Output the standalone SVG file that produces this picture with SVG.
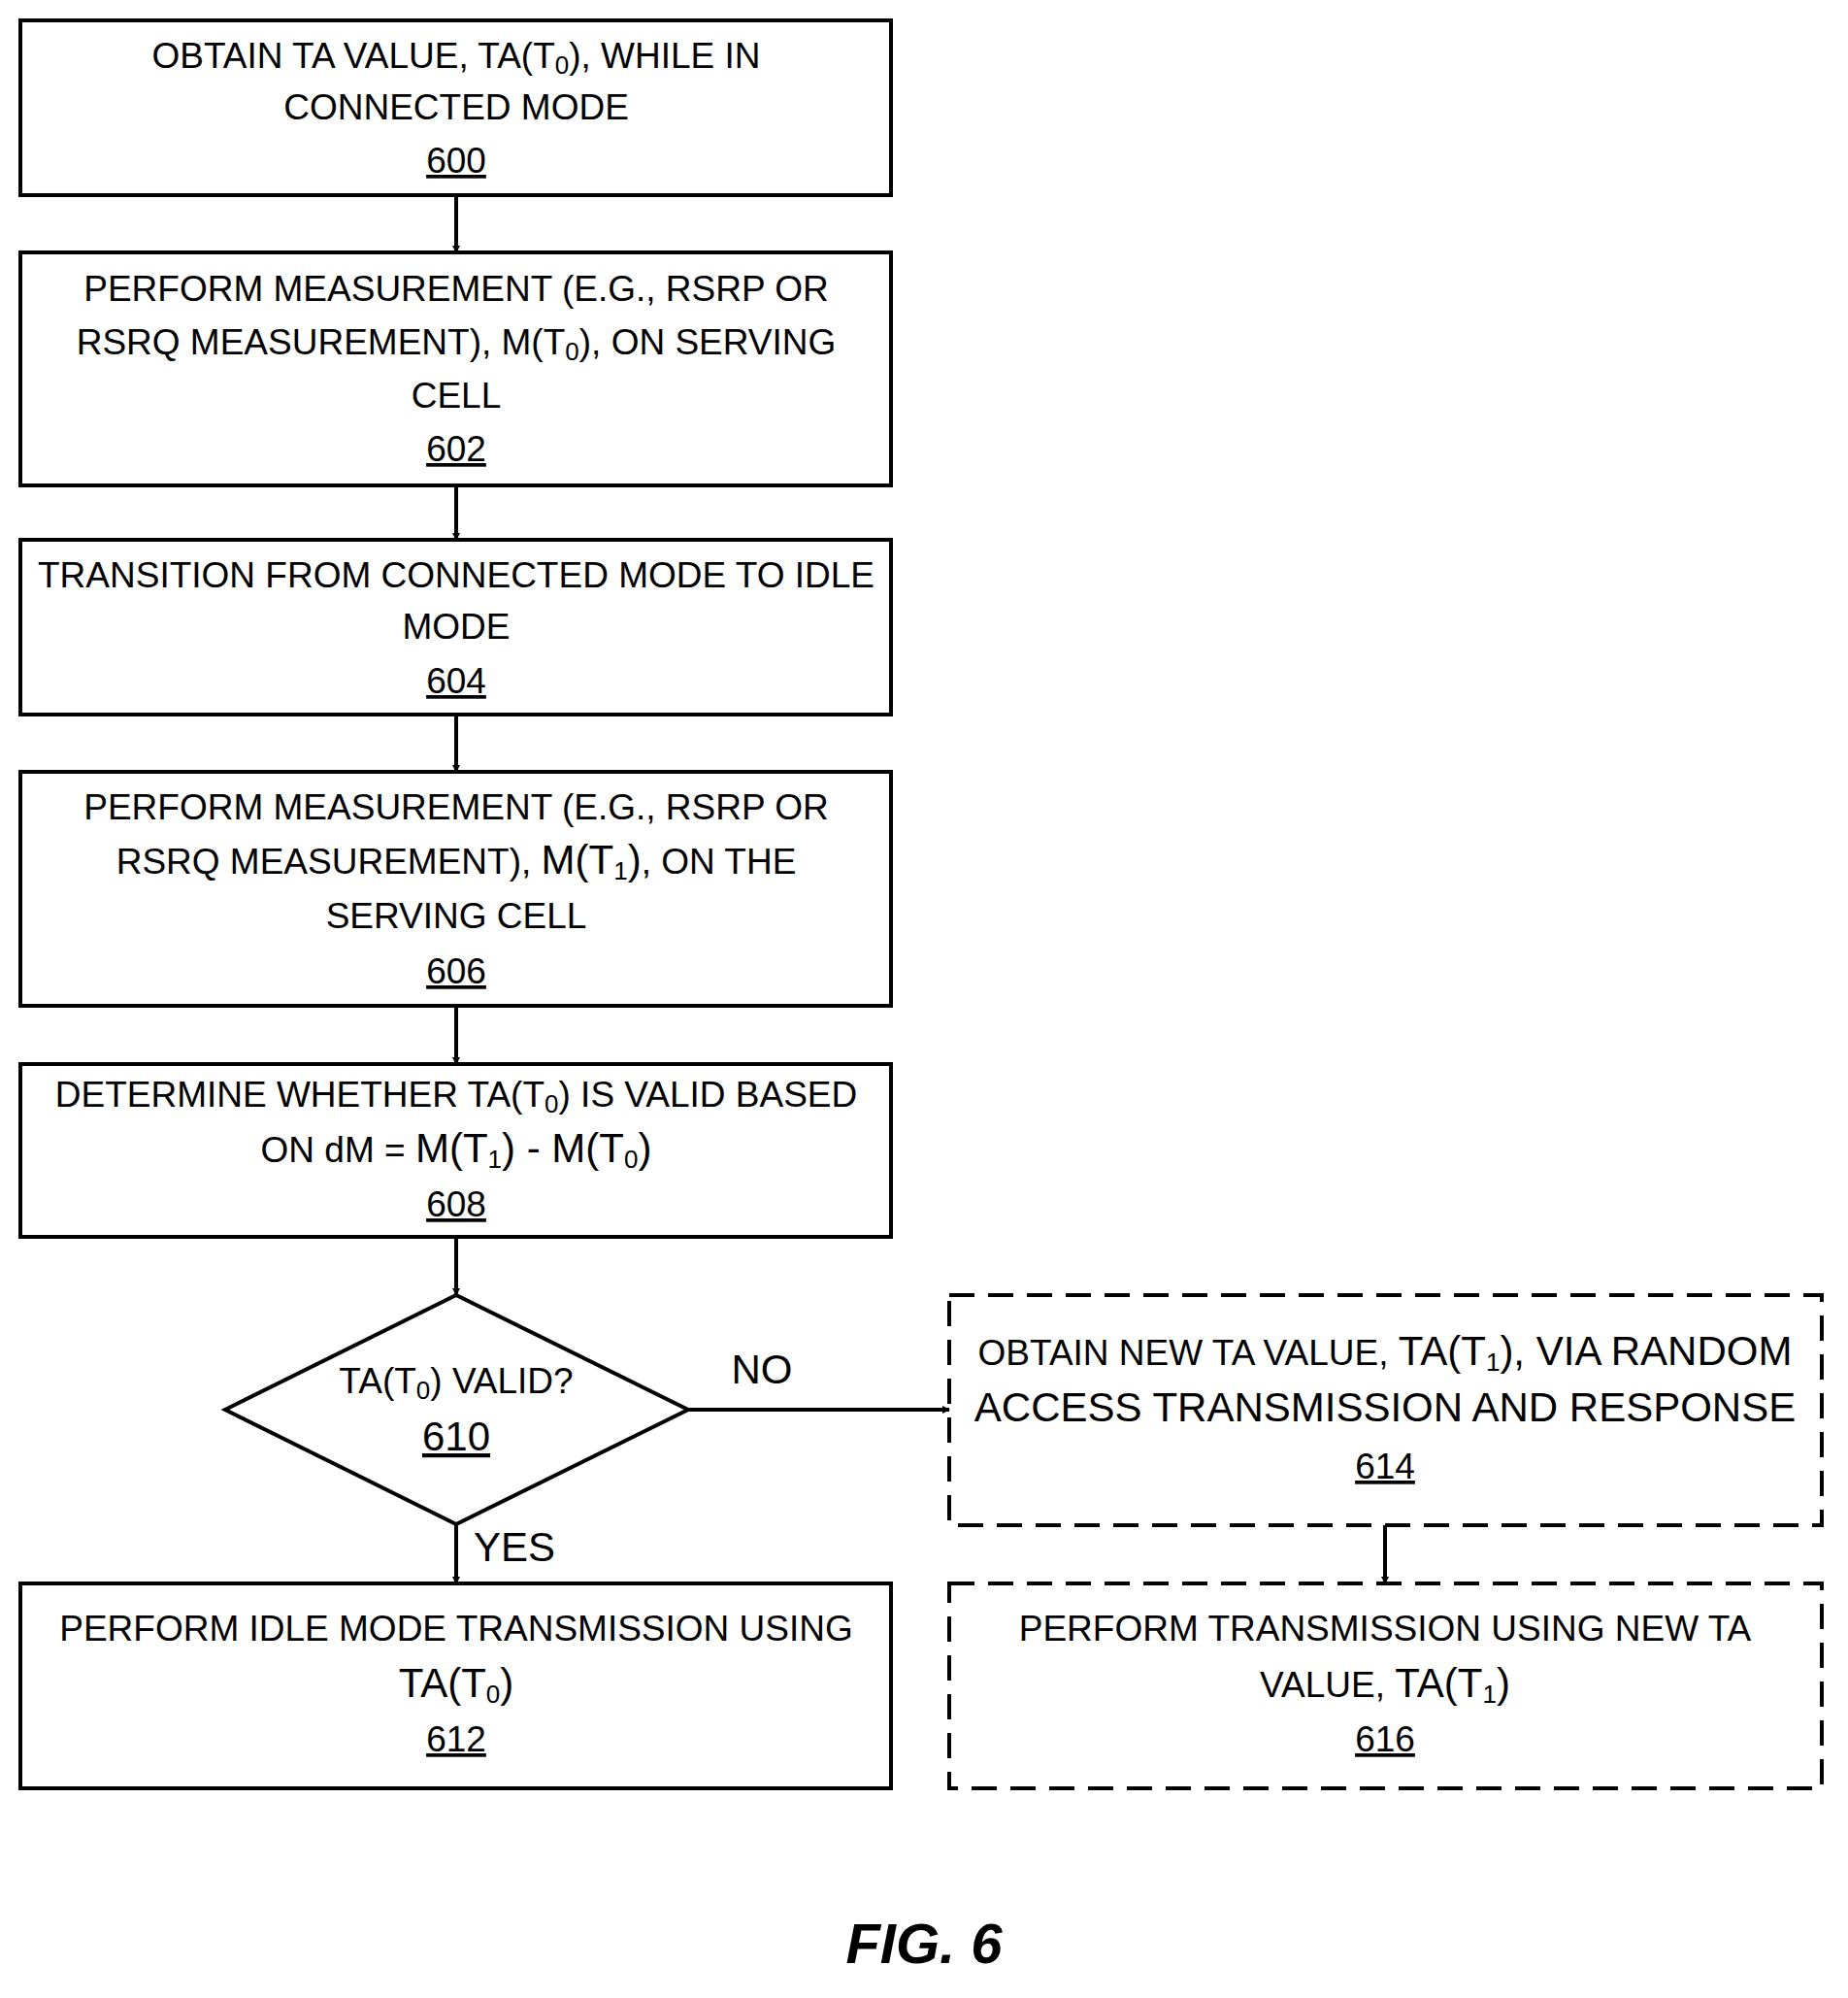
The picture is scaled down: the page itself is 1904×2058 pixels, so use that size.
<svg xmlns="http://www.w3.org/2000/svg" width="1904" height="2058" viewBox="0 0 1904 2058">
<style>
.b{fill:#fff;stroke:#000;stroke-width:4}
.d{fill:#fff;stroke:#000;stroke-width:4;stroke-dasharray:26 14}
text{font-family:"Liberation Sans",Arial,sans-serif;font-size:37px;text-anchor:middle;fill:#000}
.n{text-decoration:underline}
.big{font-size:42px}
.s{font-size:26px}
.c{stroke:#000;stroke-width:4;fill:none;marker-end:url(#a)}
</style>
<defs><marker id="a" markerWidth="8" markerHeight="8" refX="7" refY="4" orient="auto" markerUnits="userSpaceOnUse" viewBox="0 0 8 8"><path d="M0,0 L8,4 L0,8 z"/></marker></defs>
<rect width="1904" height="2058" fill="#fff"/>
<g id="n600"><rect class="b" x="21" y="21" width="897" height="180"/>
<text x="470" y="70">OBTAIN TA VALUE, TA(T<tspan class="s" dy="6">0</tspan><tspan dy="-6">), WHILE IN</tspan></text>
<text x="470" y="123">CONNECTED MODE</text><text x="470" y="178" class="n">600</text></g>
<g id="n602"><rect class="b" x="21" y="260" width="897" height="240"/>
<text x="470" y="310">PERFORM MEASUREMENT (E.G., RSRP OR</text>
<text x="470" y="365">RSRQ MEASUREMENT), M(T<tspan class="s" dy="6">0</tspan><tspan dy="-6">), ON SERVING</tspan></text>
<text x="470" y="420">CELL</text><text x="470" y="475" class="n">602</text></g>
<g id="n604"><rect class="b" x="21" y="556" width="897" height="180"/>
<text x="470" y="605">TRANSITION FROM CONNECTED MODE TO IDLE</text>
<text x="470" y="658">MODE</text><text x="470" y="714" class="n">604</text></g>
<g id="n606"><rect class="b" x="21" y="795" width="897" height="241"/>
<text x="470" y="844">PERFORM MEASUREMENT  (E.G., RSRP OR</text>
<text x="470" y="900">RSRQ MEASUREMENT), <tspan class="big">M(T</tspan><tspan class="s" dy="6">1</tspan><tspan class="big" dy="-6">)</tspan>, ON THE</text>
<text x="470" y="956">SERVING CELL</text><text x="470" y="1013" class="n">606</text></g>
<g id="n608"><rect class="b" x="21" y="1096" width="897" height="178"/>
<text x="470" y="1140">DETERMINE WHETHER TA(T<tspan class="s" dy="6">0</tspan><tspan dy="-6">) IS VALID BASED</tspan></text>
<text x="470" y="1197">ON dM = <tspan class="big">M(T</tspan><tspan class="s" dy="6">1</tspan><tspan class="big" dy="-6">) - M(T</tspan><tspan class="s" dy="6">0</tspan><tspan class="big" dy="-6">)</tspan></text>
<text x="470" y="1253" class="n">608</text></g>
<g id="n610"><polygon class="b" points="232,1452 470,1334 709,1452 470,1570"/>
<text x="470" y="1435">TA(T<tspan class="s" dy="6">0</tspan><tspan dy="-6">) VALID?</tspan></text>
<text x="470" y="1494" class="n big">610</text></g>
<g id="n612"><rect class="b" x="21" y="1631" width="897" height="211"/>
<text x="470" y="1690">PERFORM IDLE MODE TRANSMISSION USING</text>
<text x="470" y="1748"><tspan class="big">TA(T</tspan><tspan class="s" dy="6">0</tspan><tspan class="big" dy="-6">)</tspan></text>
<text x="470" y="1804" class="n">612</text></g>
<g id="n614"><rect class="d" x="978" y="1334" width="899" height="237"/>
<text x="1427" y="1406">OBTAIN NEW TA VALUE, <tspan class="big">TA(T</tspan><tspan class="s" dy="6">1</tspan><tspan class="big" dy="-6">), VIA RANDOM</tspan></text>
<text x="1427" y="1464" class="big">ACCESS TRANSMISSION AND RESPONSE</text>
<text x="1427" y="1523" class="n">614</text></g>
<g id="n616"><rect class="d" x="978" y="1631" width="899" height="211"/>
<text x="1427" y="1690">PERFORM TRANSMISSION USING NEW TA</text>
<text x="1427" y="1748">VALUE, <tspan class="big">TA(T</tspan><tspan class="s" dy="6">1</tspan><tspan class="big" dy="-6">)</tspan></text>
<text x="1427" y="1804" class="n">616</text></g>
<g id="connectors">
<path class="c" d="M470,201 V260"/>
<path class="c" d="M470,500 V556"/>
<path class="c" d="M470,736 V795"/>
<path class="c" d="M470,1036 V1096"/>
<path class="c" d="M470,1274 V1334"/>
<path class="c" d="M470,1570 V1631"/>
<path class="c" d="M709,1452 H978"/>
<path class="c" d="M1427,1571 V1631"/>
<text x="785" y="1425" class="big">NO</text>
<text x="530" y="1608" class="big">YES</text>
</g>
<text x="952" y="2022" style="font-size:58px;font-weight:bold;font-style:italic">FIG. 6</text>
</svg>
